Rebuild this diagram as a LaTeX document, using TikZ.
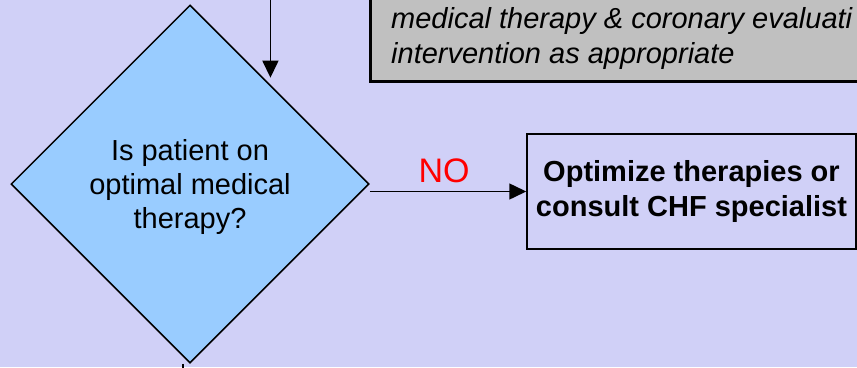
\documentclass[tikz,border=0pt]{standalone}
\usepackage{fontspec}
\setmainfont{Liberation Sans}
\usetikzlibrary{shapes.geometric,arrows.meta}

\definecolor{bgblue}{RGB}{208,208,247}
\definecolor{diablue}{RGB}{153,204,255}
\definecolor{notegray}{RGB}{192,192,192}

\tikzset{
  flow/.style={line width=1.5pt, -{Triangle[length=17pt,width=16pt]}},
  notetext/.style={inner sep=0pt, anchor=base west, font=\itshape\fontsize{29}{35}\selectfont},
}

\begin{document}
\begin{tikzpicture}[x=1pt, y=-1pt]
                \useasboundingbox (0,0) rectangle (857,367);
                \node[fill=bgblue, minimum width=857pt, minimum height=367pt, inner sep=0pt, outer sep=0pt] (frame) at (428.5, 183.5) {};
                \clip (0,0) rectangle (857,367);

                % note box, cut off by the page
                \node[draw, line width=3pt, fill=notegray, minimum width=540pt, minimum height=120pt, inner sep=0pt, outer sep=0pt, anchor=south west] (note) at (370, 81) {};
                \node[notetext] (noteA) at (391, 28) {medical therapy \& coronary evaluati};
                \node[notetext] (noteB) at (391, 63) {intervention as appropriate};

                \node[diamond, draw, line width=1.5pt, fill=diablue, minimum width=358pt, minimum height=358pt, inner sep=0pt] (dia) at (190, 184) {};
                \node[align=center, inner sep=0pt, font=\fontsize{29}{34}\selectfont] (ask) at (190, 187) {Is patient on\\optimal medical\\therapy?};

                \node[draw, line width=1.5pt, minimum width=329pt, minimum height=115pt, inner sep=0pt, align=center, font=\bfseries\fontsize{29}{35}\selectfont] (opt) at (691.5, 191.5) {Optimize therapies or\\consult CHF specialist};

                \node[red, inner sep=0pt, anchor=base, font=\fontsize{34}{40}\selectfont] (no) at (444, 182) {NO};

                % feed -> diamond
                \coordinate (hit) at (dia.51.7);
                \coordinate (feed) at (hit |- frame.north);
                \draw[flow, shorten >=7pt] (feed) -- (hit);

                % diamond -> optimize
                \draw[flow] (dia.east |- opt.west) -- (opt.west);

                % diamond -> below
                \draw[line width=1.5pt] ([xshift=-7pt]dia.south) -- ++(0, 10);

\end{tikzpicture}
\end{document}
